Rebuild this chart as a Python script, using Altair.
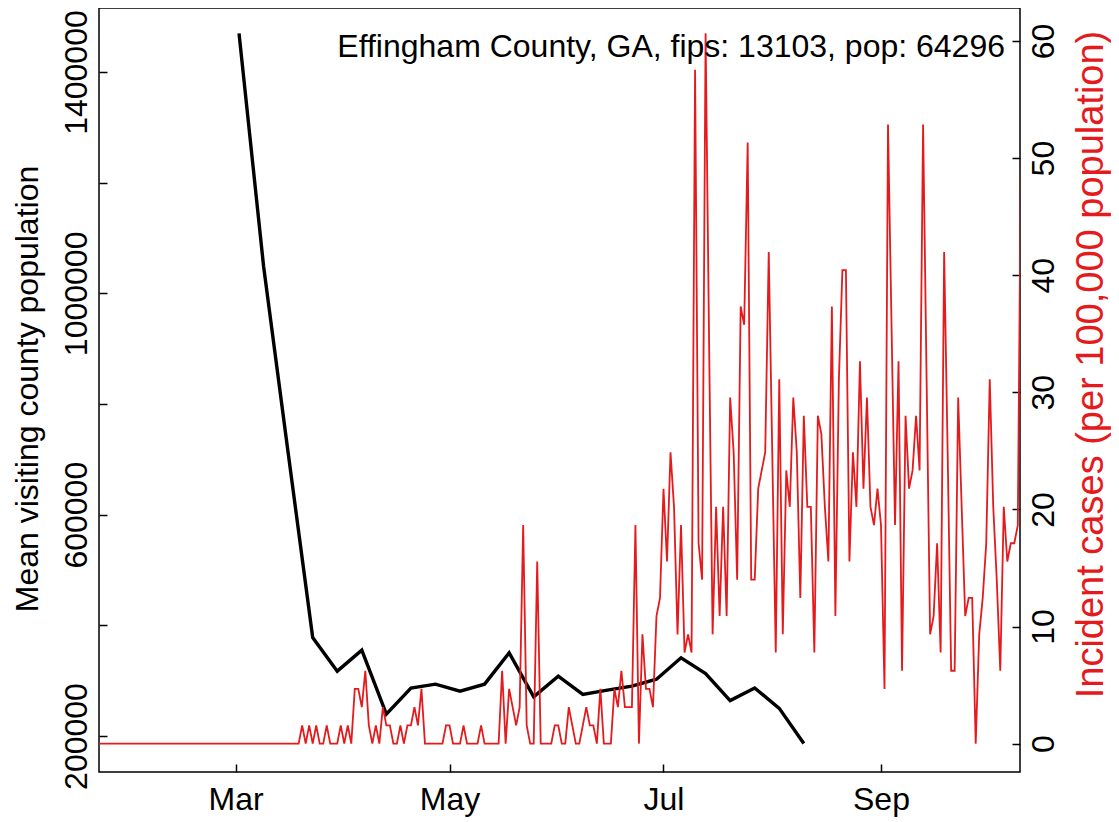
import altair as alt
import pandas as pd

FONT = "Liberation Sans"
RED = "#E41A1C"
COUNTY_LABEL = "Effingham County, GA, fips: 13103, pop: 64296"

# Weekly mean visiting county population (black line)
visit_week = [
    "2020-03-02", "2020-03-09", "2020-03-16", "2020-03-23", "2020-03-30",
    "2020-04-06", "2020-04-13", "2020-04-20", "2020-04-27", "2020-05-04",
    "2020-05-11", "2020-05-18", "2020-05-25", "2020-06-01", "2020-06-08",
    "2020-06-15", "2020-06-22", "2020-06-29", "2020-07-06", "2020-07-13",
    "2020-07-20", "2020-07-27", "2020-08-03", "2020-08-10",
]
visit_pop = [
    1469800, 1049000, 712000, 378000, 317200,
    355100, 239500, 286500, 293700, 281000,
    293700, 350300, 270700, 308100, 275100,
    282800, 290100, 302700, 341400, 312800,
    264000, 286800, 250000, 186300,
]

# Daily incident cases per 100,000 (red line), starting 2020-01-22
case_start = "2020-01-22"
incidence = [0.0] * 57 + [
    0, 1.56, 0, 1.56, 0, 1.56, 0, 0, 1.56, 0, 0, 0, 1.56, 0, 1.56, 0,
    4.67, 4.67, 3.11, 6.22, 1.56, 0, 1.56, 0, 3.11, 1.56, 1.56, 0, 0, 1.56, 0, 1.56, 1.56, 3.11, 1.56, 4.67,
    0, 0, 0, 0, 0, 0, 1.56, 1.56, 0, 0, 0, 1.56, 0, 0, 0, 0, 1.56, 0, 0, 0, 0, 0,
    6.22, 0, 4.67, 3.11, 1.56, 3.11, 18.66, 1.56, 0, 0, 15.55, 0, 0, 0, 0,
    1.56, 1.56, 0, 0, 3.11, 1.56, 0, 0, 1.56, 3.11, 1.56, 1.56, 0, 4.67, 0, 0, 0,
    4.67, 3.11, 6.22, 3.11, 3.11, 3.11, 18.66, 0, 9.33, 4.67, 4.67, 3.11, 10.89, 12.44,
    21.77, 15.55, 24.88, 20.22, 9.33, 18.66, 7.78, 9.33, 7.78,
    57.55, 17.11, 14.0, 60.66, 34.22, 9.33, 20.22, 10.89, 20.22, 10.89,
    29.55, 24.88, 14.0, 37.33, 35.77, 51.33, 14.0, 14.0, 21.77, 23.33,
    24.88, 41.99, 24.88, 7.78, 31.11, 9.33, 23.33, 20.22, 29.55, 24.88,
    12.44, 28.0, 20.22, 20.22, 7.78, 28.0, 26.44, 20.22, 15.55, 37.33,
    10.89, 31.11, 40.44, 40.44, 15.55, 24.88, 20.22, 32.66, 21.77, 29.55,
    20.22, 18.66, 21.77, 18.66, 4.67, 52.88, 35.77, 18.66, 32.66, 6.22,
    28.0, 21.77, 23.33, 28.0, 23.33, 52.88, 31.11, 9.33, 10.89, 17.11,
    7.78, 41.99, 24.88, 6.22, 6.22, 29.55, 20.22, 10.89, 12.44, 12.44,
    0, 9.33, 12.44, 17.11, 31.11, 20.22, 14.0, 6.22, 20.22, 15.55,
    17.11, 17.11, 18.66, 54.44,
]
case_dates = list(pd.date_range(case_start, periods=len(incidence), freq="D").strftime("%Y-%m-%d"))

month_ticks = [3, 5, 7, 9]
left_ticks = [200000, 400000, 600000, 800000, 1000000, 1200000, 1400000]
right_ticks = [0, 10, 20, 30, 40, 50, 60]

visits_df = pd.DataFrame({"date": visit_week, "visitors": visit_pop})
cases_df = pd.DataFrame({"date": case_dates, "incidence": incidence})
label_df = pd.DataFrame({"t": [COUNTY_LABEL]})

x_scale = alt.Scale(
    type="utc",
    domain=[
        alt.DateTime(year=2020, month=1, date=22, hours=2, utc=True),
        alt.DateTime(year=2020, month=10, date=10, hours=15, utc=True),
    ],
)

x_axis = alt.Axis(
    values=[alt.DateTime(year=2020, month=m, date=1, utc=True) for m in month_ticks],
    labelExpr="utcFormat(datum.value, '%b')", title=None,
    offset=-8, tickSize=8, tickWidth=1.5, tickColor="black", domain=False, grid=False,
    labelFontSize=32, labelFont=FONT, labelColor="black", labelPadding=12,
    labelOverlap=False, labelFlush=False,
)

left_axis = alt.Axis(
    values=left_ticks, format="d",
    labelExpr="datum.value % 400000 == 200000 ? datum.label : ''",
    offset=-8, tickSize=8, tickWidth=1.5, tickColor="black", domain=False, grid=False,
    labelAngle=270, labelAlign="center", labelBaseline="alphabetic",
    labelPadding=13, labelFontSize=32, labelFont=FONT, labelColor="black", labelOverlap=False,
    title="Mean visiting county population", titleFontSize=32, titleFont=FONT,
    titleFontWeight="normal", titleColor="black", titleAngle=270,
    titleAlign="center", titleBaseline="alphabetic", titleX=-70, titleY=380.5,
)

right_axis = alt.Axis(
    orient="right", values=right_ticks, format="d",
    offset=-8, tickSize=8, tickWidth=1.5, tickColor="black", domain=False, grid=False,
    labelAngle=270, labelAlign="center", labelBaseline="alphabetic",
    labelPadding=33, labelFontSize=32, labelFont=FONT, labelColor="black", labelOverlap=False,
    title="Incident cases (per 100,000 population)", titleFontSize=38, titleFont=FONT,
    titleFontWeight="normal", titleColor=RED, titleAngle=270,
    titleAlign="center", titleBaseline="alphabetic", titleX=90, titleY=356,
)

black = alt.Chart(visits_df).mark_line(color="black", strokeWidth=3.4, clip=True).encode(
    x=alt.X("date:T", scale=x_scale, axis=x_axis),
    y=alt.Y("visitors:Q", scale=alt.Scale(domain=[134950, 1515760], nice=False, zero=False), axis=left_axis),
)

red = alt.Chart(cases_df).mark_line(color=RED, strokeWidth=1.8, clip=True).encode(
    x=alt.X("date:T", scale=x_scale, axis=x_axis),
    y=alt.Y("incidence:Q", scale=alt.Scale(domain=[-2.425, 62.82], nice=False, zero=False), axis=right_axis),
)

label = alt.Chart(label_df).mark_text(
    align="right", baseline="alphabetic", fontSize=32, font=FONT, color="black"
).encode(text="t:N", x=alt.value(906), y=alt.value(49))

chart = (
    alt.layer(black, red, label)
    .resolve_scale(y="independent")
    .properties(
        width=921, height=764,
        padding={"left": 91, "top": 0, "right": 91, "bottom": 46},
        autosize=alt.AutoSizeParams(type="none"),
        background="white",
    )
    .configure_view(stroke="black", strokeWidth=1.5)
)

chart.save("out.html", embed_options={"renderer": "svg", "actions": False})
